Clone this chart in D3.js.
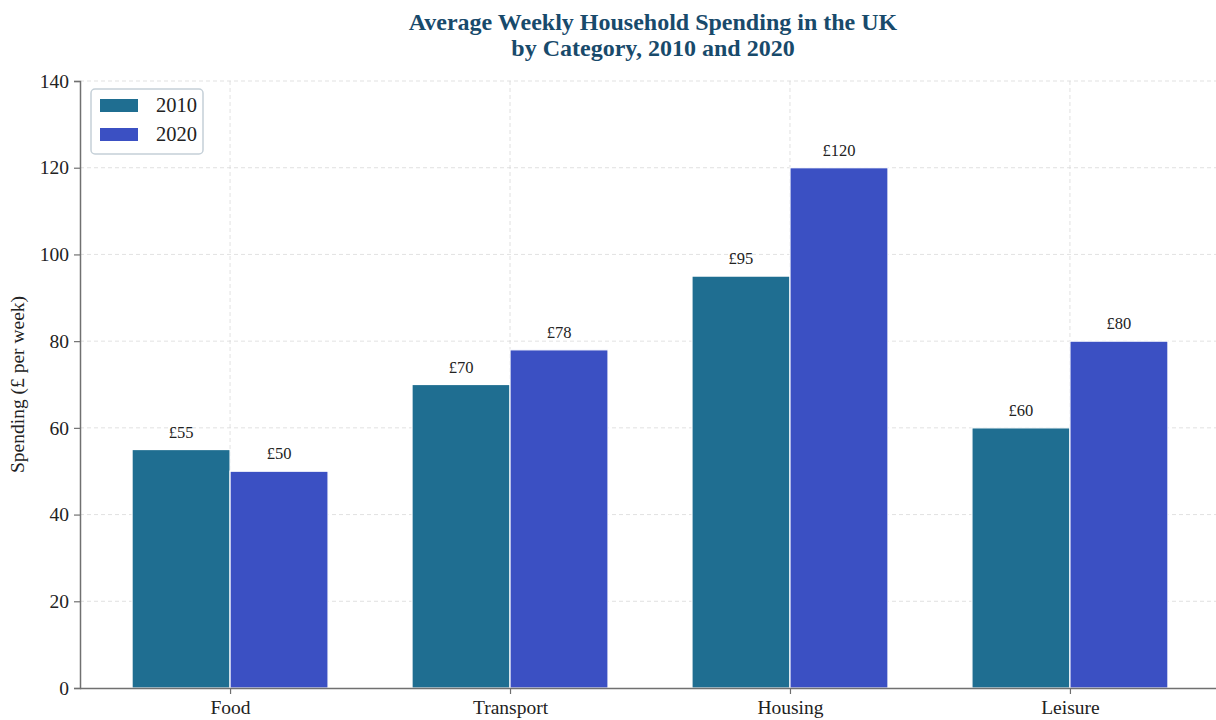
<!DOCTYPE html>
<html>
<head>
<meta charset="utf-8">
<script src="https://cdn.jsdelivr.net/npm/d3@7"></script>
<style>
  html, body { margin: 0; padding: 0; background: #ffffff; }
  svg { display: block; font-family: "Liberation Serif", "DejaVu Serif", serif; }
</style>
</head>
<body>
<svg id="chart" width="1216" height="720"></svg>
<script>
// Average weekly household spending (£) by category
const categories = ["Food", "Transport", "Housing", "Leisure"];
const years = ["2010", "2020"];
const spending2010 = [55, 70, 95, 60];
const spending2020 = [50, 78, 120, 80];
const yTicks = [0, 20, 40, 60, 80, 100, 120, 140];

const seriesColors = ["#1f6e91", "#3b50c3"];
const series = [spending2010, spending2020];

const svg = d3.select("#chart");
const margin = { left: 80, top: 81, bottom: 32 };
const width = 1216, height = 720;
const plotBottom = height - margin.bottom; // 688

// x uses category index, with padding either side of the groups
const barW = 0.35;
const x = d3.scaleLinear()
  .domain([-0.536, categories.length - 1 + 0.536])
  .range([margin.left, 1220]);
const y = d3.scaleLinear().domain([0, 140]).range([plotBottom, margin.top]);

// Grid
const grid = svg.append("g").attr("stroke", "#d9d9d9").attr("stroke-width", 0.8)
  .attr("stroke-dasharray", "4,3");
grid.selectAll("line.h").data(yTicks.slice(1)).join("line")
  .attr("x1", margin.left).attr("x2", width)
  .attr("y1", d => y(d)).attr("y2", d => y(d));
grid.selectAll("line.v").data(categories).join("line")
  .attr("x1", (d, i) => x(i)).attr("x2", (d, i) => x(i))
  .attr("y1", margin.top).attr("y2", plotBottom);

// Bars
series.forEach((vals, s) => {
  const g = svg.append("g");
  g.selectAll("rect").data(vals).join("rect")
    .attr("x", (d, i) => x(i + (s - 1) * barW))
    .attr("width", x(barW) - x(0))
    .attr("y", d => y(d))
    .attr("height", d => plotBottom - y(d))
    .attr("fill", seriesColors[s])
    .attr("stroke", "#ffffff")
    .attr("stroke-width", 1.2);
  g.selectAll("text").data(vals).join("text")
    .attr("x", (d, i) => x(i + (s - 0.5) * barW))
    .attr("y", d => y(d) - 12)
    .attr("text-anchor", "middle")
    .attr("font-size", 16.5)
    .attr("fill", "#222")
    .text(d => "£" + d);
});

// Axes
const axisColor = "#707070";
const yAxis = svg.append("g").attr("transform", `translate(${margin.left},0)`)
  .call(d3.axisLeft(y).tickValues(yTicks).tickSize(6).tickPadding(5));
const xAxis = svg.append("g").attr("transform", `translate(0,${plotBottom})`)
  .call(d3.axisBottom(x).tickValues(d3.range(categories.length))
    .tickFormat(i => categories[i]).tickSize(6).tickPadding(6));
xAxis.select(".domain").attr("d", `M${margin.left},0.5H${width}`);
[yAxis, xAxis].forEach(a => {
  a.select(".domain").attr("stroke", axisColor).attr("stroke-width", 1.5);
  a.selectAll(".tick line").attr("stroke", axisColor).attr("stroke-width", 1.2);
  a.selectAll(".tick text").attr("font-size", 19.5).attr("fill", "#222")
    .attr("font-family", "Liberation Serif, serif");
});

// Y axis label
svg.append("text")
  .attr("transform", `translate(24,${(margin.top + plotBottom) / 2}) rotate(-90)`)
  .attr("text-anchor", "middle")
  .attr("font-size", 19.5)
  .attr("fill", "#222")
  .text("Spending (£ per week)");

// Title
const title = svg.append("text")
  .attr("text-anchor", "middle")
  .attr("font-size", 24)
  .attr("font-weight", "bold")
  .attr("fill", "#184a6b");
title.append("tspan").attr("x", 653).attr("y", 30).text("Average Weekly Household Spending in the UK");
title.append("tspan").attr("x", 653).attr("y", 56).text("by Category, 2010 and 2020");

// Legend
const legend = svg.append("g").attr("transform", "translate(91,89)");
legend.append("rect")
  .attr("width", 112).attr("height", 65).attr("rx", 4)
  .attr("fill", "#ffffff").attr("stroke", "#c5d0d8").attr("stroke-width", 1.5);
years.forEach((yr, i) => {
  legend.append("rect")
    .attr("x", 9).attr("y", 10 + i * 29)
    .attr("width", 38).attr("height", 13)
    .attr("fill", seriesColors[i]);
  legend.append("text")
    .attr("x", 65).attr("y", 23 + i * 29)
    .attr("font-size", 20.5).attr("fill", "#222")
    .text(yr);
});
</script>
</body>
</html>
